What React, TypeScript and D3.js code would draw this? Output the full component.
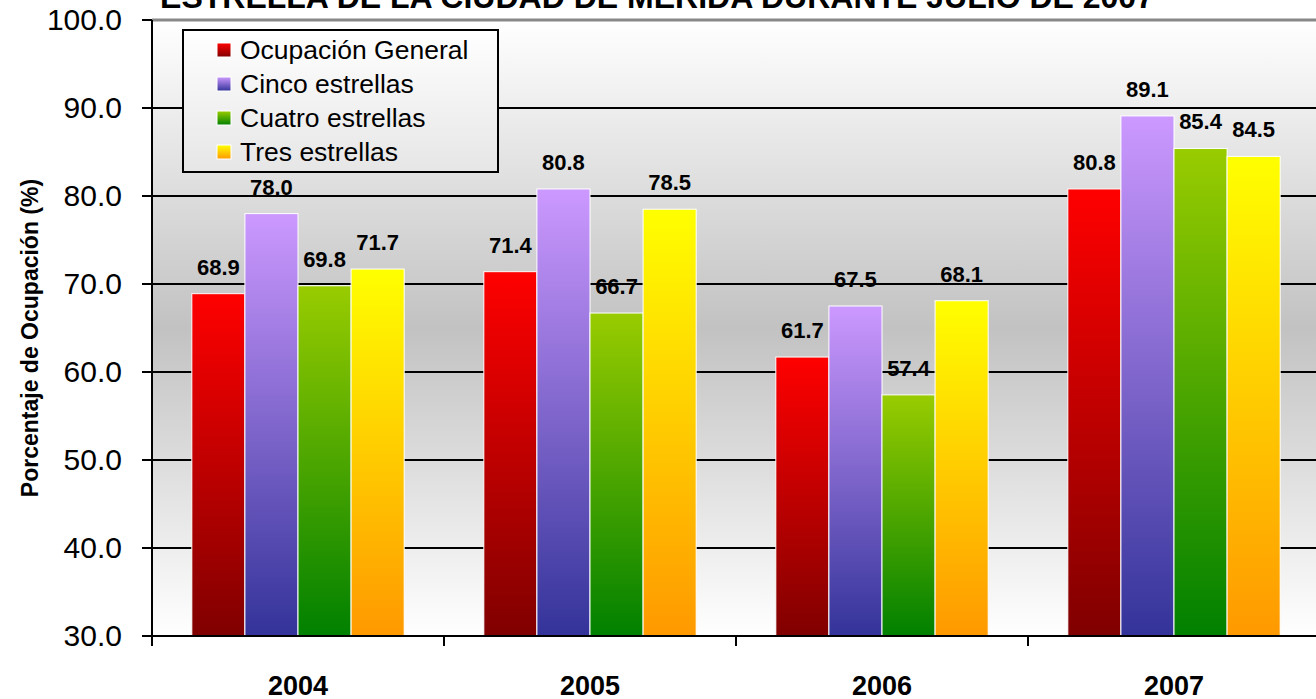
import React from 'react';
import * as d3 from 'd3';

const years: string[] = ['2004', '2005', '2006', '2007'];
const seriesNames: string[] = ['Ocupación General', 'Cinco estrellas', 'Cuatro estrellas', 'Tres estrellas'];
const general: number[] = [68.9, 71.4, 61.7, 80.8];
const cinco: number[] = [78.0, 80.8, 67.5, 89.1];
const cuatro: number[] = [69.8, 66.7, 57.4, 85.4];
const tres: number[] = [71.7, 78.5, 68.1, 84.5];
const yTicks: number[] = [30, 40, 50, 60, 70, 80, 90, 100];

const seriesValues = [general, cinco, cuatro, tres];
const gradients = [
  { id: 'g-red', top: '#ff0000', bottom: '#800000' },
  { id: 'g-purple', top: '#cc99ff', bottom: '#333399' },
  { id: 'g-green', top: '#99cc00', bottom: '#008000' },
  { id: 'g-yellow', top: '#ffff00', bottom: '#ff9900' }
];

const W = 1316;
const H = 699;
const left = 152;
const right = 1320;
const top = 20;
const bottom = 636;
const font = '"Liberation Sans", Arial, sans-serif';

const App: React.FC = () => {
  const x0 = d3.scaleBand<string>().domain(years).range([left, right]);
  const x1 = d3.scaleBand<string>()
    .domain(seriesNames)
    .range([0, x0.bandwidth()])
    .paddingOuter(0.75);
  const y = d3.scaleLinear().domain([30, 100]).range([bottom, top]);

  return (
    <svg width={W} height={H} style={{ position: 'absolute', left: 0, top: 0, background: '#fff' }}>
      <defs>
        <linearGradient id="plot-bg" x1="0" y1="0" x2="0" y2="1">
          <stop offset="0" stopColor="#ffffff" />
          <stop offset="0.5" stopColor="#c2c2c2" />
          <stop offset="1" stopColor="#ffffff" />
        </linearGradient>
        <linearGradient id="legend-bg" x1="0" y1="0" x2="0" y2="1">
          <stop offset="0" stopColor="#ffffff" />
          <stop offset="1" stopColor="#e6e6e6" />
        </linearGradient>
        {gradients.map(g => (
          <linearGradient key={g.id} id={g.id} x1="0" y1="0" x2="0" y2="1">
            <stop offset="0" stopColor={g.top} />
            <stop offset="1" stopColor={g.bottom} />
          </linearGradient>
        ))}
      </defs>

      {/* title, cut off at the top */}
      <text x={657} y={8} textAnchor="middle" fontFamily={font} fontWeight="bold" fontSize={32}>
        ESTRELLA DE LA CIUDAD DE MERIDA DURANTE JULIO DE 2007
      </text>

      <rect x={left} y={top} width={right - left} height={bottom - top} fill="url(#plot-bg)" />

      {/* gridlines */}
      {yTicks.filter(t => t > 30 && t < 100).map(t => (
        <line key={t} x1={left} x2={right} y1={y(t)} y2={y(t)} stroke="#000" strokeWidth={2} />
      ))}
      <line x1={left} x2={right} y1={y(100)} y2={y(100)} stroke="#888" strokeWidth={3} />

      {/* bars */}
      {years.map((yr, i) => (
        <g key={yr} transform={`translate(${x0(yr)},0)`}>
          {seriesNames.map((s, j) => {
            const v = seriesValues[j][i];
            return (
              <rect
                key={s}
                x={x1(s)}
                y={y(v)}
                width={x1.bandwidth()}
                height={bottom - y(v)}
                fill={`url(#${gradients[j].id})`}
                stroke="#fff"
                strokeWidth={1}
              />
            );
          })}
          {seriesNames.map((s, j) => {
            const v = seriesValues[j][i];
            return (
              <text
                key={s + '-l'}
                x={(x1(s) || 0) + x1.bandwidth() / 2}
                y={y(v) - 19}
                textAnchor="middle"
                fontFamily={font}
                fontWeight="bold"
                fontSize={22}
              >
                {v.toFixed(1)}
              </text>
            );
          })}
        </g>
      ))}

      {/* y axis */}
      <line x1={left} x2={left} y1={top} y2={bottom} stroke="#000" strokeWidth={2} />
      {yTicks.map(t => (
        <g key={t}>
          <line x1={left - 10} x2={left} y1={y(t)} y2={y(t)} stroke="#000" strokeWidth={2} />
          <text x={122} y={y(t) + 10} textAnchor="end" fontFamily={font} fontSize={30}>
            {t.toFixed(1)}
          </text>
        </g>
      ))}
      <text
        transform={`translate(38,${(top + bottom) / 2 + 10}) rotate(-90)`}
        textAnchor="middle"
        fontFamily={font}
        fontWeight="bold"
        fontSize={23}
      >
        Porcentaje de Ocupación (%)
      </text>

      {/* x axis */}
      <line x1={left - 10} x2={right} y1={bottom} y2={bottom} stroke="#000" strokeWidth={2} />
      {years.map(yr => (
        <line key={yr} x1={x0(yr)} x2={x0(yr)} y1={bottom} y2={bottom + 10} stroke="#000" strokeWidth={2} />
      ))}
      {years.map(yr => (
        <text
          key={yr + '-t'}
          x={(x0(yr) || 0) + x0.bandwidth() / 2}
          y={695}
          textAnchor="middle"
          fontFamily={font}
          fontWeight="bold"
          fontSize={27}
        >
          {yr}
        </text>
      ))}

      {/* legend */}
      <g transform="translate(183,30)">
        <rect x={0} y={0} width={315} height={142} fill="url(#legend-bg)" stroke="#000" strokeWidth={2} />
        {seriesNames.map((s, j) => (
          <g key={s} transform={`translate(0,${20 + j * 34})`}>
            <rect x={34} y={-7} width={14} height={14} fill={`url(#${gradients[j].id})`} stroke="#fff" strokeWidth={1} />
            <text x={57} y={9} fontFamily={font} fontSize={26.5}>
              {s}
            </text>
          </g>
        ))}
      </g>
    </svg>
  );
};

export default App;
